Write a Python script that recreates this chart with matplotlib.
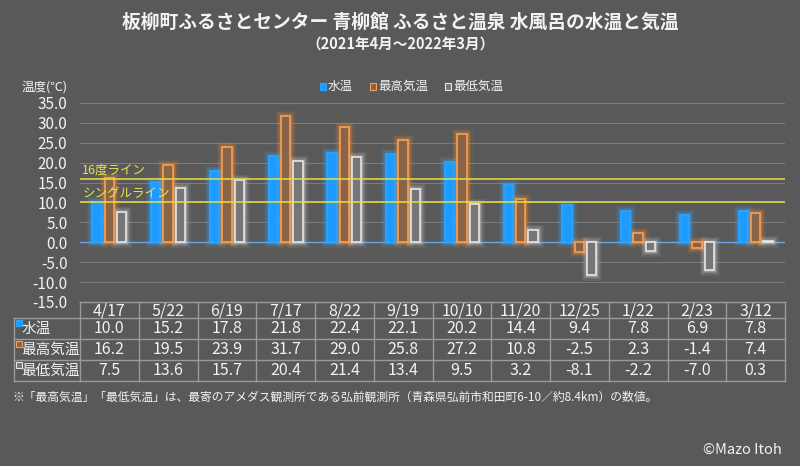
import matplotlib
matplotlib.use("Agg")
import matplotlib.pyplot as plt
import numpy as np

plt.rcParams['font.family'] = ['Noto Sans CJK JP', 'DejaVu Sans']

dates = ["4/17", "5/22", "6/19", "7/17", "8/22", "9/19", "10/10", "11/20", "12/25", "1/22", "2/23", "3/12"]
water = [10.0, 15.2, 17.8, 21.8, 22.4, 22.1, 20.2, 14.4, 9.4, 7.8, 6.9, 7.8]
tmax = [16.2, 19.5, 23.9, 31.7, 29.0, 25.8, 27.2, 10.8, -2.5, 2.3, -1.4, 7.4]
tmin = [7.5, 13.6, 15.7, 20.4, 21.4, 13.4, 9.5, 3.2, -8.1, -2.2, -7.0, 0.3]
series_names = ["水温", "最高気温", "最低気温"]
yticks = [35, 30, 25, 20, 15, 10, 5, 0, -5, -10, -15]
ref_lines = [(16, "16度ライン"), (10, "シングルライン")]

BG = "#595959"
TXT = "#f2f2f2"
W, H = 800, 466
fig = plt.figure(figsize=(8, 4.66), dpi=100, facecolor=BG)

def fx(px): return px / W
def fy(py): return 1 - py / H

# main axes: x 80..785, y 103(35)..302(-15)
L, R, T, B = 80, 785, 103, 302
ax = fig.add_axes([fx(L), fy(B), fx(R - L), (B - T) / H])
ax.set_facecolor(BG)
ax.set_xlim(-0.5, 11.5)
ax.set_ylim(-15, 35)
for s in ax.spines.values():
    s.set_visible(False)
ax.set_yticks(yticks)
ax.set_yticklabels([f"{v:.1f}" for v in yticks], color=TXT, fontsize=11)
ax.tick_params(axis='y', length=0, pad=9)
ax.set_xticks([])
for v in yticks:
    if v == 0:
        continue
    ax.axhline(v, color="#7a7a7a", lw=0.8, zorder=0)
ax.axhline(0, color="#6aa6e0", lw=1.0, zorder=1)

x = np.arange(len(dates))
bw = 0.16
off = 0.21
cols = [
    dict(face="#1e9bff", edge="#2aa4ff", glow="#3aa8ff"),
    dict(face="#8a6448", edge="#f5a055", glow="#f08a30"),
    dict(face="#767676", edge="#e6e6e6", glow="#d0d0d0"),
]
for i, vals in enumerate([water, tmax, tmin]):
    c = cols[i]
    xs = x + (i - 1) * off
    for lw, a in [(8, 0.08), (6, 0.12), (4, 0.18), (2.5, 0.3)]:
        ax.bar(xs, vals, width=bw, facecolor="none", edgecolor=c["glow"], lw=lw, alpha=a, zorder=2)
    ax.bar(xs, vals, width=bw, facecolor=c["face"], edgecolor=c["edge"], lw=1.2, zorder=3)

for val, lab in ref_lines:
    ax.axhline(val, color="#e6e040", lw=1.1, zorder=4)
    ax.text(-0.46, val + 0.5, lab, color="#ece44a", fontsize=9, va="bottom", ha="left", zorder=5)

# table
tax = fig.add_axes([fx(L), fy(381), fx(R - L), (381 - 302) / H])
tax.set_xlim(-0.5, 11.5)
row_px = [302, 318, 339, 360, 381]
tax.set_ylim(381, 302)
tax.axis("off")
lc = "#9a9a9a"
x_left = -0.5 - (L - 14) / ((R - L) / 12)
tax.plot([-0.5, 11.5], [302, 302], color=lc, lw=1, clip_on=False)
for yy in row_px[1:]:
    tax.plot([x_left, 11.5], [yy, yy], color=lc, lw=1, clip_on=False)
for k in range(13):
    tax.plot([k - 0.5, k - 0.5], [302, 381], color=lc, lw=1, clip_on=False)
tax.plot([x_left, x_left], [318, 381], color=lc, lw=1, clip_on=False)
for k, d in enumerate(dates):
    tax.text(k, 310.5, d, color=TXT, fontsize=11.5, ha="center", va="center")
sq_colors = [("#1e9bff", "#2aa4ff"), ("#8a6448", "#f5a055"), ("#767676", "#e6e6e6")]
for r, (name, vals) in enumerate(zip(series_names, [water, tmax, tmin])):
    yc = (row_px[r + 1] + row_px[r + 2]) / 2
    for k, v in enumerate(vals):
        tax.text(k, yc, f"{v:.1f}", color=TXT, fontsize=11.5, ha="center", va="center")
    tax.text(x_left + 0.13, yc + 0.5, name, color=TXT, fontsize=10.5, ha="left", va="center", clip_on=False)
    fig.patches.append(plt.Rectangle((fx(16), fy(yc - 3)), 6 / W, 6 / H, transform=fig.transFigure,
                                     facecolor=sq_colors[r][0], edgecolor=sq_colors[r][1], lw=0.8))

# titles
fig.text(0.5, fy(22), "板柳町ふるさとセンター 青柳館 ふるさと温泉 水風呂の水温と気温", color=TXT,
         fontsize=13.5, fontweight="bold", ha="center", va="center")
fig.text(0.5, fy(44), "（2021年4月～2022年3月）", color=TXT, fontsize=10.5, fontweight="bold", ha="center", va="center")
fig.text(fx(22), fy(87), "温度(℃)", color=TXT, fontsize=9, ha="left", va="center")

# legend
leg_items = [(320, "水温"), (370, "最高気温"), (445, "最低気温")]
for r, (px, name) in enumerate(leg_items):
    fig.patches.append(plt.Rectangle((fx(px), fy(90)), 6 / W, 7 / H, transform=fig.transFigure,
                                     facecolor=sq_colors[r][0], edgecolor=sq_colors[r][1], lw=0.8))
    fig.text(fx(px + 8), fy(86.5), name, color=TXT, fontsize=9, ha="left", va="center")

fig.text(fx(12), fy(397), "※「最高気温」「最低気温」は、最寄のアメダス観測所である弘前観測所（青森県弘前市和田町6-10／約8.4km）の数値。",
         color=TXT, fontsize=8.5, ha="left", va="center")
fig.text(fx(782), fy(450), "©Mazo Itoh", color=TXT, fontsize=10.5, ha="right", va="center")

fig.savefig("out.png", dpi=100, facecolor=BG)
